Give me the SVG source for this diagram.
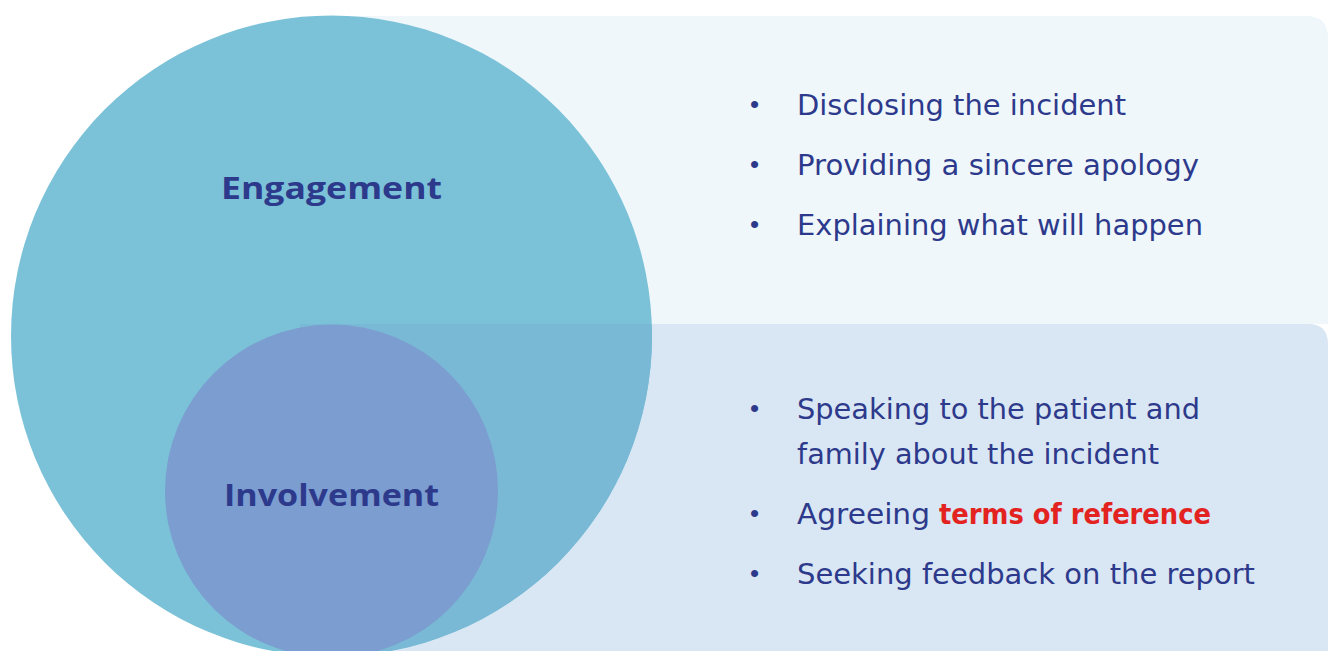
<svg xmlns="http://www.w3.org/2000/svg" width="1328" height="651" viewBox="0 0 1328 651">
  <style>
    .item { font-family: "DejaVu Sans", "Open Sans", "Liberation Sans", sans-serif; font-size: 28.5px; fill: #2d3a8c; }
    .bullet { font-family: "Liberation Sans", sans-serif; font-size: 26px; fill: #2d3a8c; }
    .title { font-family: "Open Sans", Lato, "Liberation Sans", sans-serif; font-size: 30px; font-weight: bold; fill: #2d3a8c; }
    .hl { fill: #e3231f; font-weight: bold; }
  </style>
  <defs>
    <clipPath id="lowerBand">
      <rect x="300" y="324" width="1028" height="327"/>
    </clipPath>
  </defs>
  <rect width="1328" height="651" fill="#ffffff"/>

  <!-- background panels -->
  <g id="panel-engagement">
    <path d="M300 16 H1306 Q1328 16 1328 38 V324 H300 Z" fill="#eff7fb"/>
  </g>
  <g id="panel-involvement">
    <path d="M300 324 H1308 Q1328 324 1328 344 V651 H300 Z" fill="#d9e6f3"/>
  </g>

  <!-- outer circle -->
  <g id="node-engagement">
    <circle cx="331.5" cy="336" r="320.5" fill="#7bc2d8"/>
    <circle cx="331.5" cy="336" r="320.5" fill="#79b9d5" clip-path="url(#lowerBand)"/>
    <text class="title" x="221" y="199" textLength="221" lengthAdjust="spacingAndGlyphs">Engagement</text>
  </g>

  <!-- inner circle -->
  <g id="node-involvement">
    <circle cx="331.5" cy="491" r="166.5" fill="#7b9dd0"/>
    <text class="title" x="224" y="506" textLength="215" lengthAdjust="spacingAndGlyphs">Involvement</text>
  </g>

  <g id="connectors"/>

  <!-- engagement items -->
  <g id="list-engagement">
    <text class="bullet" x="750" y="113">•</text>
    <text class="item" x="797" y="115" textLength="329" lengthAdjust="spacingAndGlyphs">Disclosing the incident</text>
    <text class="bullet" x="750" y="173">•</text>
    <text class="item" x="797" y="175" textLength="402" lengthAdjust="spacingAndGlyphs">Providing a sincere apology</text>
    <text class="bullet" x="750" y="233">•</text>
    <text class="item" x="797" y="235" textLength="406" lengthAdjust="spacingAndGlyphs">Explaining what will happen</text>
  </g>

  <!-- involvement items -->
  <g id="list-involvement">
    <text class="bullet" x="750" y="417">•</text>
    <text class="item" x="797" y="419" textLength="403" lengthAdjust="spacingAndGlyphs">Speaking to the patient and</text>
    <text class="item" x="797" y="464" textLength="362" lengthAdjust="spacingAndGlyphs">family about the incident</text>
    <text class="bullet" x="750" y="522">•</text>
    <text class="item" x="797" y="524" textLength="133" lengthAdjust="spacingAndGlyphs">Agreeing</text>
    <text class="item hl" x="939" y="524" textLength="272" lengthAdjust="spacingAndGlyphs">terms of reference</text>
    <text class="bullet" x="750" y="582">•</text>
    <text class="item" x="797" y="584" textLength="458" lengthAdjust="spacingAndGlyphs">Seeking feedback on the report</text>
  </g>
</svg>
